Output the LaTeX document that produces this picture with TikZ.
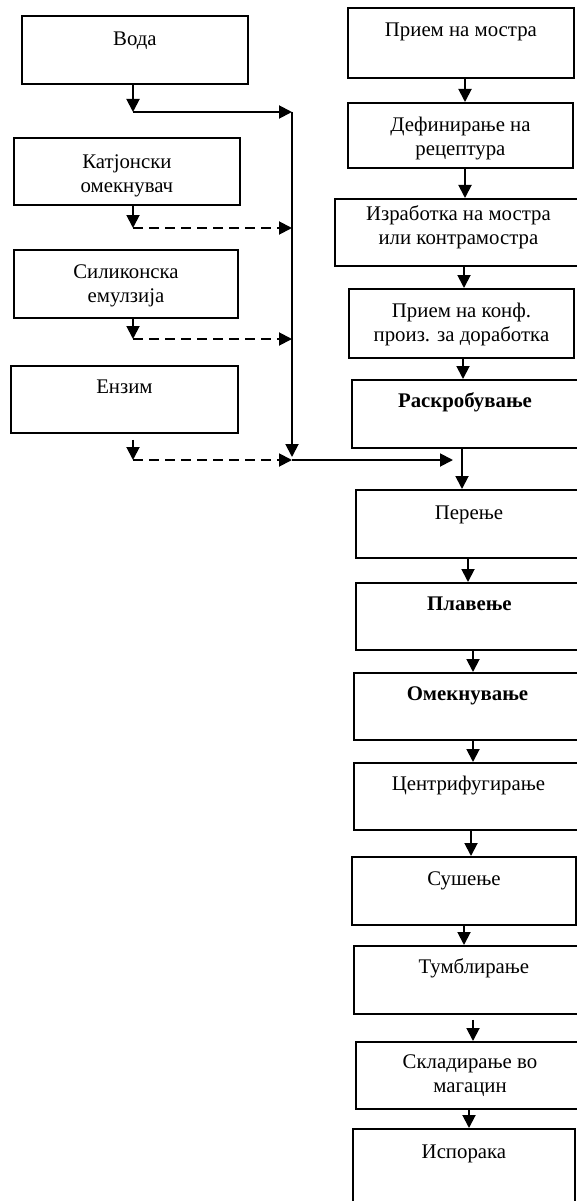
\documentclass[tikz,border=0pt]{standalone}
\usepackage{fontspec}
\setmainfont{Liberation Serif}
\usetikzlibrary{arrows.meta}

% box content: width, height, first-baseline offset, text
\newcommand{\bx}[4]{\parbox[c][#2pt][t]{#1pt}{\centering\fontsize{20.8}{24}\selectfont\rule{0pt}{#3pt}#4\par}}

\tikzset{
  x=1pt, y=-1pt,
  box/.style={draw, line width=1.9pt, inner sep=0pt, anchor=north west},
  arr/.style={line width=1.9pt, -{Triangle[length=13pt,width=13pt]}},
  dsh/.style={arr, dash pattern=on 10pt off 6pt},
}

\begin{document}
\begin{tikzpicture}
\useasboundingbox (0,0) rectangle (576,1201);

% inputs on the left
\node[box] (voda) at (21,15)  {\bx{226}{68}{30}{Вода}};
\node[box] (kat)  at (13,137) {\bx{226}{67}{31}{Катјонски\\омекнувач}};
\node[box] (sil)  at (13,249) {\bx{224}{68}{29}{Силиконска\\емулзија}};
\node[box] (enz)  at (10,365) {\bx{227}{67}{28}{Ензим}};

% process steps on the right
\node[box] (priem) at (347,7)    {\bx{226}{70}{29}{Прием на мостра}};
\node[box] (def)   at (347,102)  {\bx{225}{65}{29}{Дефинирање на\\рецептура}};
\node[box] (izr)   at (334,198)  {\bx{247}{67}{22}{Изработка на мостра\\или контрамостра}};
\node[box] (konf)  at (348,288)  {\bx{225}{69}{29}{Прием на конф.\\произ. за доработка}};
\node[box] (rask)  at (351,379)  {\bx{226}{68}{28}{\textbf{Раскробување}}};
\node[box] (per)   at (355,489)  {\bx{226}{68}{30}{Перење}};
\node[box] (plav)  at (355,582)  {\bx{227}{67}{28}{\textbf{Плавење}}};
\node[box] (omek)  at (353,672)  {\bx{227}{67}{28}{\textbf{Омекнување}}};
\node[box] (centr) at (353,762)  {\bx{229}{67}{28}{Центрифугирање}};
\node[box] (sus)   at (351,856)  {\bx{224}{68}{29}{Сушење}};
\node[box] (tumb)  at (353,945)  {\bx{240}{68}{28}{Тумблирање}};
\node[box] (sklad) at (355,1041) {\bx{228}{67}{27}{Складирање во\\магацин}};
\node[box] (ispor) at (352,1128) {\bx{222}{90}{30}{Испорака}};

% junction points of the feed lines
\coordinate (j1) at (133,112);
\coordinate (j2) at (133,228);
\coordinate (j3) at (133,339);
\coordinate (j4) at (133,460);
\coordinate (t1) at (292,112);
\coordinate (t2) at (292,228);
\coordinate (t3) at (292,339);
\coordinate (t4) at (292,460);
\coordinate (m)  at (453,460);

\draw[arr] (voda.south -| j1) -- (j1);
\draw[arr] (j1) -- (t1);
\draw[arr] (kat.south -| j2) -- (j2);
\draw[dsh] (j2) -- (t2);
\draw[arr] (sil.south -| j3) -- (j3);
\draw[dsh] (j3) -- (t3);
\draw[arr] (enz.south -| j4) ++(0,6) -- (j4);
\draw[dsh] (j4) -- (t4);
\draw[arr] (t1) -- ([yshift=3pt]t4);
\draw[arr] (t4) -- (m);

% main flow
\draw[arr] (priem.south -| 465,0) -- (def.north -| 465,0);
\draw[arr] (def.south -| 465,0)   -- (izr.north -| 465,0);
\draw[arr] (izr.south -| 464,0)   -- (konf.north -| 464,0);
\draw[arr] (konf.south -| 463,0)  -- (rask.north -| 463,0);
\draw[arr] (rask.south -| 462,0)  -- (per.north -| 462,0);
\draw[arr] (per.south -| 468,0)   -- (plav.north -| 468,0);
\draw[arr] (plav.south -| 473,0)  -- (omek.north -| 473,0);
\draw[arr] (omek.south -| 473,0)  -- (centr.north -| 473,0);
\draw[arr] (centr.south -| 471,0) -- (sus.north -| 471,0);
\draw[arr] (sus.south -| 464,0)   -- (tumb.north -| 464,0);
\draw[arr] (tumb.south -| 473,0) ++(0,5) -- (sklad.north -| 473,0);
\draw[arr] (sklad.south -| 469,0) -- (ispor.north -| 469,0);
\end{tikzpicture}
\end{document}
